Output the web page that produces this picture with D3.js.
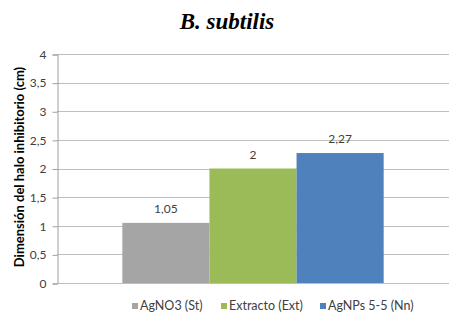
<!DOCTYPE html>
<html><head><meta charset="utf-8">
<script src="https://cdn.jsdelivr.net/npm/d3@7"></script>
<style>body{margin:0;background:#fff}svg{display:block}</style>
</head><body>
<script>
const title = "B. subtilis";
const series = ["AgNO3 (St)", "Extracto (Ext)", "AgNPs 5-5 (Nn)"];
const values = [1.05, 2, 2.27];
const valueLabels = ["1,05", "2", "2,27"];
const colors = ["#A5A5A5", "#9BBB59", "#4F81BD"];
const yTicks = [0, 0.5, 1, 1.5, 2, 2.5, 3, 3.5, 4];
const yTickLabels = ["0", "0,5", "1", "1,5", "2", "2,5", "3", "3,5", "4"];
const yTitle = "Dimensión del halo inhibitorio (cm)";

const W = 457, H = 328;
const svg = d3.select("body").append("svg").attr("width", W).attr("height", H);
const L = 57, R = 449, T = 54, B = 283;
const y = d3.scaleLinear().domain([0, 4]).range([B, T]);
const x = d3.scaleBand().domain(series).range([L, R]).paddingInner(0).paddingOuter(0.75);

// gridlines
svg.append("g").selectAll("line").data(yTicks).join("line")
  .attr("x1", L).attr("x2", R).attr("y1", d => Math.round(y(d)) + 0.5).attr("y2", d => Math.round(y(d)) + 0.5)
  .attr("stroke", "#BEBEBE").attr("stroke-width", 1);

// y axis
const ax = d3.axisLeft(y).tickValues(yTicks).tickSize(5).tickPadding(6)
  .tickFormat((d, i) => yTickLabels[i]);
const g = svg.append("g").attr("transform", `translate(${L + 0.5},0.5)`).call(ax);
g.select(".domain").attr("stroke", "#A0A0A0");
g.selectAll(".tick line").attr("stroke", "#A0A0A0");
g.selectAll(".tick text").attr("fill", "#404040").style("font-family", "Lato, 'Open Sans', sans-serif").style("font-size", "12px");

// bars
svg.append("g").selectAll("rect").data(series).join("rect")
  .attr("x", d => x(d)).attr("width", x.bandwidth())
  .attr("y", (d, i) => y(values[i])).attr("height", (d, i) => y(0) - y(values[i]))
  .attr("fill", (d, i) => colors[i]);

// value labels
svg.append("g").selectAll("text").data(series).join("text")
  .attr("x", d => x(d) + x.bandwidth() / 2)
  .attr("y", (d, i) => y(values[i]) - 10)
  .attr("text-anchor", "middle")
  .attr("fill", "#404040")
  .style("font-family", "Lato, 'Open Sans', sans-serif").style("font-size", "12px")
  .text((d, i) => valueLabels[i]);

// title
svg.append("text").attr("x", 227).attr("y", 29).attr("text-anchor", "middle")
  .style("font-family", "'Liberation Serif', 'Times New Roman', serif")
  .style("font-weight", "bold").style("font-style", "italic").style("font-size", "23px")
  .attr("fill", "#000").text(title);

// y title
svg.append("text").attr("transform", "translate(24,167) rotate(-90)")
  .attr("text-anchor", "middle")
  .style("font-family", "Lato, 'Open Sans', sans-serif").style("font-weight", "bold").style("font-size", "13px")
  .attr("fill", "#000").text(yTitle);

// legend
const legX = [132, 221, 320];
const lg = svg.append("g").selectAll("g").data(series).join("g")
  .attr("transform", (d, i) => `translate(${legX[i]},303)`);
lg.append("rect").attr("width", 6).attr("height", 6).attr("fill", (d, i) => colors[i]);
lg.append("text").attr("x", 8).attr("y", 3).attr("dy", "0.35em")
  .attr("fill", "#404040")
  .style("font-family", "Lato, 'Open Sans', sans-serif").style("font-size", "12.5px")
  .text(d => d);
</script>
</body></html>
